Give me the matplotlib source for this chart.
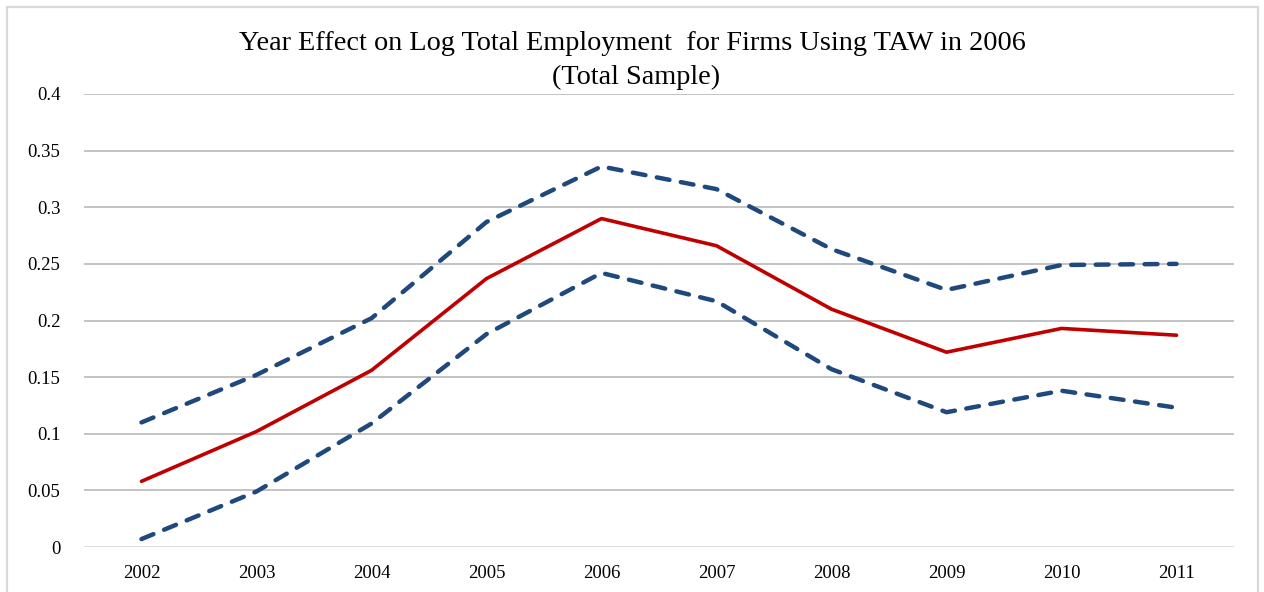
import matplotlib.pyplot as plt
from matplotlib.patches import Rectangle

years = ["2002", "2003", "2004", "2005", "2006", "2007", "2008", "2009", "2010", "2011"]
effect = [0.058, 0.102, 0.156, 0.237, 0.290, 0.266, 0.210, 0.172, 0.193, 0.187]
upper = [0.110, 0.152, 0.202, 0.287, 0.336, 0.316, 0.263, 0.227, 0.249, 0.250]
lower = [0.007, 0.049, 0.109, 0.188, 0.242, 0.217, 0.157, 0.119, 0.138, 0.123]
yticks = [0, 0.05, 0.1, 0.15, 0.2, 0.25, 0.3, 0.35, 0.4]
ytick_labels = ["0", "0.05", "0.1", "0.15", "0.2", "0.25", "0.3", "0.35", "0.4"]

plt.rcParams["font.family"] = ["Liberation Serif", "DejaVu Serif"]

W, H = 1264, 592
fig = plt.figure(figsize=(W / 100, H / 100), dpi=100)
ax = fig.add_axes([84 / W, 45 / H, 1150 / W, 453 / H])

x = list(range(len(years)))
blue = "#1F497D"
for band in (upper, lower):
    ax.plot(x, band, color=blue, lw=3.2, dashes=(2.9, 2.6),
            dash_capstyle="round", solid_capstyle="round", solid_joinstyle="round")
ax.plot(x, effect, color="#C00000", lw=2.6, solid_capstyle="round", solid_joinstyle="round")

ax.set_xlim(-0.5, len(years) - 0.5)
ax.set_ylim(0, 0.4)
ax.set_xticks(x)
ax.set_xticklabels(years, fontsize=13.5)
ax.set_yticks(yticks)
ax.set_yticklabels(ytick_labels, fontsize=13.5)
ax.tick_params(length=0)
ax.tick_params(axis="y", pad=17)
ax.tick_params(axis="x", pad=13)

# gridlines, with the zero line drawn lighter like an axis line
for v in yticks[1:]:
    ax.axhline(v, color="#b3b3b3", lw=1.1, zorder=0)
ax.axhline(0, color="#dadada", lw=1.3, zorder=0)
for s in ax.spines.values():
    s.set_visible(False)

fig.text(0.5, 1 - 44 / H, "Year Effect on Log Total Employment  for Firms Using TAW in 2006",
         ha="center", va="center", fontsize=20.3)
fig.text(0.503, 1 - 77 / H, "(Total Sample)", ha="center", va="center", fontsize=20.3)

# chart frame
fig.patches.append(Rectangle((7 / W, -0.05), (1258 - 7) / W, 1.05 - 7 / H,
                             transform=fig.transFigure, fill=False,
                             edgecolor="#d9d9d9", lw=1.6))

fig.savefig("out.png", dpi=100)
